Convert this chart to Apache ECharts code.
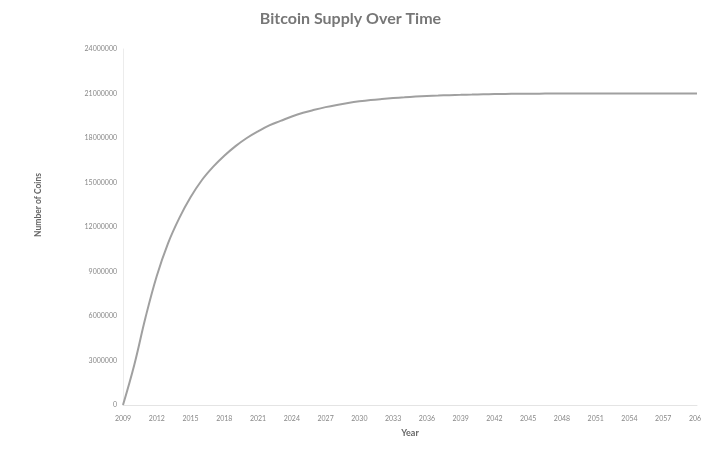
<!DOCTYPE html>
<html>
<head>
<meta charset="utf-8">
<script src="https://cdn.jsdelivr.net/npm/echarts@6/dist/echarts.min.js"></script>
<style>
  html, body { margin: 0; padding: 0; background: #fff; }
  #chart { width: 701px; height: 463px; }
</style>
</head>
<body>
<div id="chart"></div>
<script>
  // years 2009..2060
  var years = [];
  for (var y = 2009; y <= 2060; y++) years.push(String(y));

  // coins in circulation
  var supply = [
    0, 2700000, 5900000, 8700000, 10900000, 12600000, 14000000, 15150000,
    16050000, 16800000, 17450000, 18000000, 18450000, 18850000, 19150000, 19450000,
    19700000, 19900000, 20080000, 20230000, 20360000, 20470000, 20560000, 20630000,
    20690000, 20740000, 20790000, 20830000, 20860000, 20890000, 20910000, 20930000,
    20950000, 20960000, 20970000, 20980000, 20985000, 20990000, 20993000, 20995000,
    20996000, 20997000, 20998000, 20998500, 20999000, 20999300, 20999500, 20999700,
    20999800, 20999900, 20999950, 21000000
  ];

  var yTicks = [0, 3000000, 6000000, 9000000, 12000000, 15000000, 18000000, 21000000, 24000000];

  var chart = echarts.init(document.getElementById('chart'));
  chart.setOption({
    backgroundColor: '#fff',
    animation: false,
    textStyle: { fontFamily: 'Lato' },
    title: {
      text: 'Bitcoin Supply Over Time',
      left: 'center',
      top: 6,
      textStyle: { fontFamily: 'Lato', fontSize: 16, fontWeight: 'bold', color: '#777' }
    },
    grid: { left: 123, right: 4, top: 49, bottom: 58, outerBoundsMode: 'none', containLabel: false },
    xAxis: {
      type: 'category',
      data: years,
      boundaryGap: false,
      name: 'Year',
      nameLocation: 'middle',
      nameGap: 24,
      nameTextStyle: { fontSize: 9, fontWeight: 'bold', color: '#666' },
      axisLine: { lineStyle: { color: '#e4e4e4', width: 1 } },
      axisTick: { show: false },
      axisLabel: { interval: 2, fontSize: 7, color: '#888', margin: 10, hideOverlap: false },
      splitLine: { show: false }
    },
    yAxis: {
      type: 'value',
      min: yTicks[0],
      max: yTicks[yTicks.length - 1],
      interval: 3000000,
      name: 'Number of Coins',
      nameLocation: 'middle',
      nameGap: 80,
      nameTextStyle: { fontSize: 8.5, fontWeight: 'bold', color: '#666', padding: [0, 0, 0, 44] },
      axisLine: { show: true, lineStyle: { color: '#ececec', width: 1 } },
      axisTick: { show: false },
      axisLabel: { fontSize: 7, color: '#888', margin: 6, formatter: function (v) { return String(v); } },
      splitLine: { show: false }
    },
    series: [{
      type: 'line',
      data: supply,
      smooth: 0.4,
      showSymbol: false,
      lineStyle: { color: '#a0a0a0', width: 2 }
    }]
  });
</script>
</body>
</html>
